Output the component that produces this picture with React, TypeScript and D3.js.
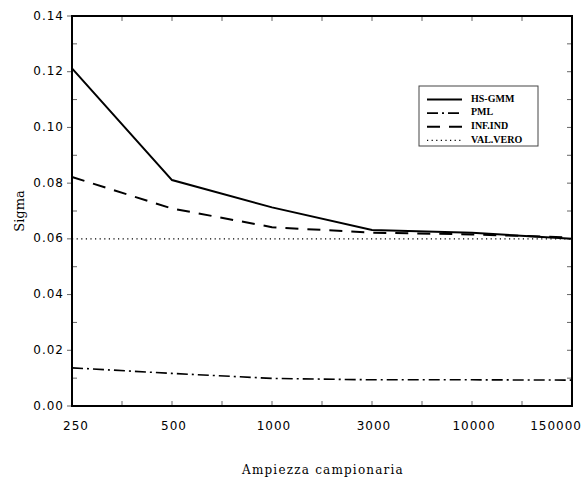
import * as d3 from "d3";

const W = 583;
const H = 485;
const M = { top: 16, right: 11, bottom: 79, left: 72 };

const categories = ["250", "500", "1000", "3000", "10000", "150000"];
const hsGmm = [0.1212, 0.0811, 0.0713, 0.0632, 0.0622, 0.06];
const pml = [0.0137, 0.0117, 0.0099, 0.0094, 0.0094, 0.0093];
const infInd = [0.0822, 0.0709, 0.0642, 0.0622, 0.0616, 0.0605];
const valVero = [0.06, 0.06, 0.06, 0.06, 0.06, 0.06];
const yTicks = [0, 0.02, 0.04, 0.06, 0.08, 0.1, 0.12, 0.14];

const series = [
  { name: "HS-GMM", values: hsGmm, dash: "", width: 2 },
  { name: "PML", values: pml, dash: "11,4,2,4", width: 1.6 },
  { name: "INF.IND", values: infInd, dash: "13,9", width: 2 },
  { name: "VAL.VERO", values: valVero, dash: "1.2,3.4", width: 1.2 },
];

export default function App() {
  const x = d3
    .scalePoint<string>()
    .domain(categories)
    .range([M.left, W - M.right]);
  const y = d3
    .scaleLinear()
    .domain([0, 0.14])
    .range([H - M.bottom, M.top]);

  const half = x.step() / 2;
  // minor x ticks every half step
  const xTicks = d3.range(0, categories.length * 2 - 1).map((i) => M.left + i * half);
  const yMinor = d3.range(0, 15).map((i) => i * 0.01);

  const line = d3
    .line<number>()
    .x((_, i) => x(categories[i]) as number)
    .y((d) => y(d));

  const x0 = M.left;
  const x1 = W - M.right;
  const y0 = H - M.bottom;
  const y1 = M.top;

  const tickFont = { fontFamily: "DejaVu Sans", fontSize: 12, letterSpacing: 1 };

  return (
    <div style={{ position: "fixed", left: 0, top: 0 }}>
      <svg width={W} height={H} style={{ display: "block", background: "#fff" }}>
        {/* ticks */}
        {xTicks.map((t, i) => (
          <g key={"xt" + i} stroke="#666" strokeWidth={1}>
            <line x1={t} x2={t} y1={y0} y2={y0 - 5} />
            <line x1={t} x2={t} y1={y1} y2={y1 + 5} />
          </g>
        ))}
        {yMinor.map((v, i) => (
          <g key={"yt" + i} stroke="#666" strokeWidth={1}>
            {i % 2 === 0 ? (
              <line x1={x0 - 5} x2={x0} y1={y(v)} y2={y(v)} />
            ) : (
              <line x1={x0} x2={x0 + 5} y1={y(v)} y2={y(v)} />
            )}
            <line x1={x1} x2={x1 - 5} y1={y(v)} y2={y(v)} />
          </g>
        ))}

        {/* series */}
        {series.map((s) => (
          <path
            key={s.name}
            d={line(s.values) || ""}
            fill="none"
            stroke="#000"
            strokeWidth={s.width}
            strokeDasharray={s.dash || undefined}
          />
        ))}

        {/* frame */}
        <rect
          x={x0}
          y={y1}
          width={x1 - x0}
          height={y0 - y1}
          fill="none"
          stroke="#000"
          strokeWidth={2}
        />

        {/* y labels */}
        {yTicks.map((v) => (
          <text
            key={"yl" + v}
            x={x0 - 8}
            y={y(v)}
            textAnchor="end"
            dominantBaseline="middle"
            {...tickFont}
          >
            {v.toFixed(2)}
          </text>
        ))}

        {/* x labels */}
        {categories.map((c, i) => {
          const last = i === categories.length - 1;
          const first = i === 0;
          return (
            <text
              key={"xl" + c}
              x={last ? W - 1 : (x(c) as number) + (first ? 4 : 2)}
              y={y0 + 24}
              textAnchor={last ? "end" : "middle"}
              {...tickFont}
            >
              {c}
            </text>
          );
        })}

        {/* axis titles */}
        <text
          x={323}
          y={474}
          textAnchor="middle"
          fontFamily="DejaVu Serif"
          fontSize={12}
          letterSpacing={1.2}
        >
          Ampiezza campionaria
        </text>
        <text
          transform={`translate(24, ${y(0.07)}) rotate(-90)`}
          textAnchor="middle"
          fontFamily="DejaVu Serif"
          fontSize={13}
        >
          Sigma
        </text>

        {/* legend */}
        <g transform="translate(419, 86)">
          <rect width={119} height={60} fill="#fff" stroke="#444" strokeWidth={1} />
          {series.map((s, i) => (
            <g key={"lg" + s.name} transform={`translate(0, ${13.5 + i * 13.6})`}>
              <line
                x1={8}
                x2={43}
                y1={0}
                y2={0}
                stroke="#000"
                strokeWidth={s.width}
                strokeDasharray={s.dash || undefined}
              />
              <text
                x={52}
                y={0}
                dominantBaseline="middle"
                fontFamily="Liberation Serif"
                fontWeight="bold"
                fontSize={10}
              >
                {s.name}
              </text>
            </g>
          ))}
        </g>
      </svg>
    </div>
  );
}
